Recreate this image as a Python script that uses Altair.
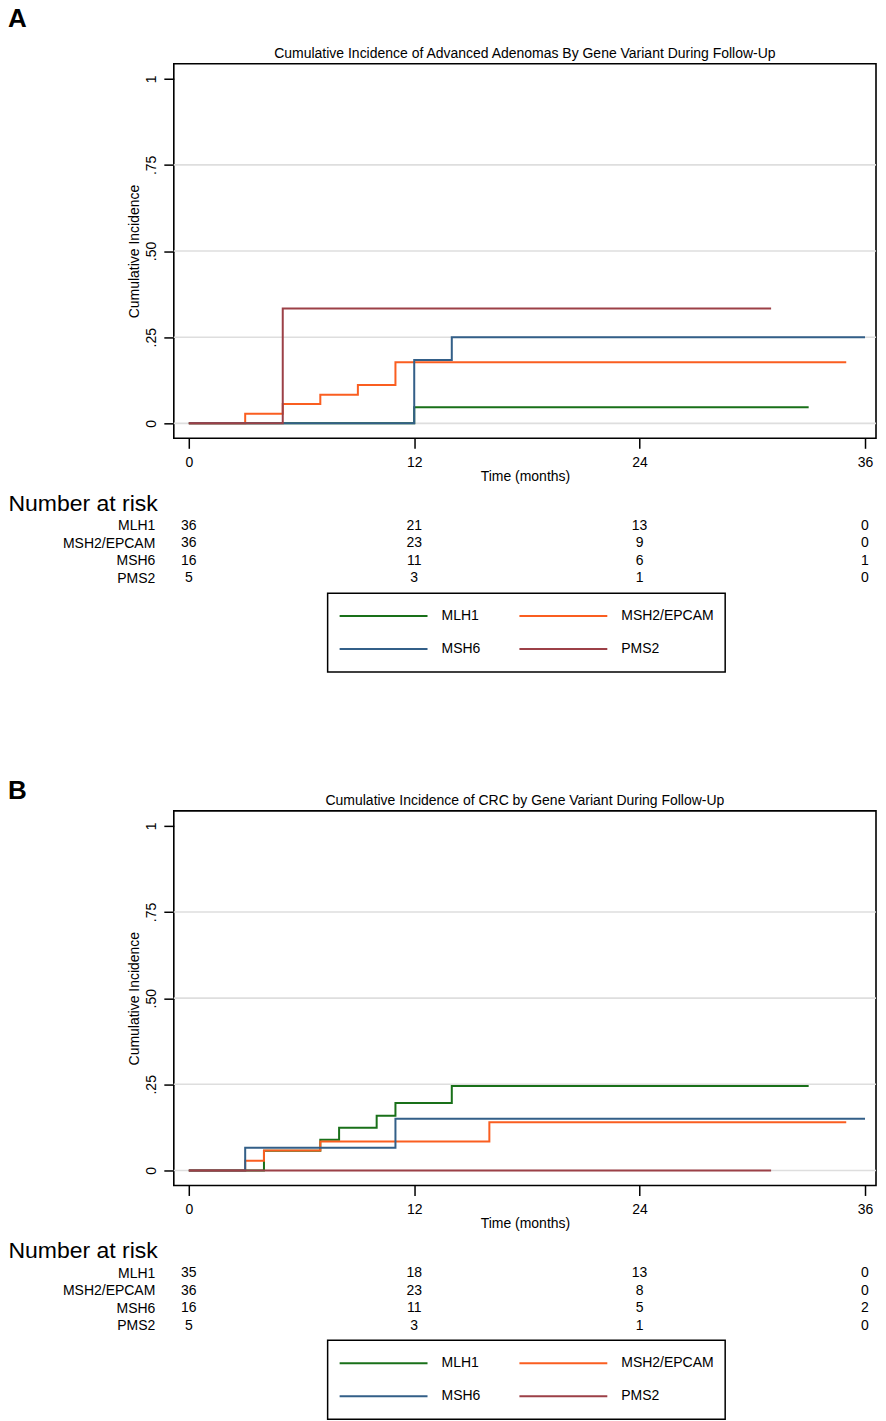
import altair as alt
import pandas as pd

FONT = "Liberation Sans"

groups = ["MLH1", "MSH2/EPCAM", "MSH6", "PMS2"]
colors = ["#197019", "#fa5e20", "#335f88", "#9c4047"]
# legend entries are filled column by column, so list them column-wise
legend_order = ["MLH1", "MSH6", "MSH2/EPCAM", "PMS2"]

x_ticks = [0, 12, 24, 36]
y_ticks = [0, 0.25, 0.5, 0.75, 1]
grid_vals = [0, 0.25, 0.5, 0.75]
risk_times = [0, 12, 24, 36]

# ---------- Panel A: advanced adenomas ----------
a_label = "A"
a_title = "Cumulative Incidence of Advanced Adenomas By Gene Variant During Follow-Up"
a_mlh1_t = [0, 12, 33]
a_mlh1_v = [0, 0.047, 0.047]
a_msh2_t = [0, 3, 5, 7, 9, 11, 35]
a_msh2_v = [0, 0.028, 0.056, 0.083, 0.111, 0.177, 0.177]
a_msh6_t = [0, 12, 14, 36]
a_msh6_v = [0, 0.184, 0.25, 0.25]
a_pms2_t = [0, 5, 31]
a_pms2_v = [0, 0.333, 0.333]
a_risk_mlh1 = [36, 21, 13, 0]
a_risk_msh2 = [36, 23, 9, 0]
a_risk_msh6 = [16, 11, 6, 1]
a_risk_pms2 = [5, 3, 1, 0]

# ---------- Panel B: CRC ----------
b_label = "B"
b_title = "Cumulative Incidence of CRC by Gene Variant During Follow-Up"
b_mlh1_t = [0, 4, 7, 8, 10, 11, 14, 33]
b_mlh1_v = [0, 0.057, 0.089, 0.124, 0.159, 0.196, 0.245, 0.245]
b_msh2_t = [0, 3, 4, 7, 16, 35]
b_msh2_v = [0, 0.028, 0.058, 0.084, 0.14, 0.14]
b_msh6_t = [0, 3, 11, 36]
b_msh6_v = [0, 0.066, 0.15, 0.15]
b_pms2_t = [0, 31]
b_pms2_v = [0, 0]
b_risk_mlh1 = [35, 18, 13, 0]
b_risk_msh2 = [36, 23, 8, 0]
b_risk_msh6 = [16, 11, 5, 2]
b_risk_pms2 = [5, 3, 1, 0]


def curves_df(series):
    rows = []
    for g, (ts, vs) in zip(groups, series):
        for t, v in zip(ts, vs):
            rows.append({"time": t, "inc": v, "group": g})
    return pd.DataFrame(rows)


def risk_df(risks):
    rows = []
    for g, ns in zip(groups, risks):
        for t, n in zip(risk_times, ns):
            rows.append({"time": t, "n": n, "group": g})
    return pd.DataFrame(rows)


PW, PH = 703, 375
XDOM = [-0.8, 36.585]
YDOM = [-0.0435, 1.0435]
color_map = dict(zip(groups, colors))


def panel(label, label_offset, title, series, risks, lx, ly):
    xscale = alt.Scale(domain=XDOM, nice=False, zero=False)
    yscale = alt.Scale(domain=YDOM, nice=False, zero=False)
    yaxis = alt.Axis(
        values=y_ticks, title="Cumulative Incidence", grid=False, domain=False,
        tickSize=10, tickWidth=1.5, tickColor="black",
        labelAngle=270, labelFontSize=14, labelPadding=5, labelColor="black",
        labelFont=FONT,
        labelExpr="datum.value == 0 ? '0' : datum.value == 1 ? '1' : '.' + format(datum.value * 100, 'd')",
        titleFontSize=14, titleFontWeight="normal", titlePadding=3,
        titleColor="black", titleFont=FONT)

    grid = alt.Chart(pd.DataFrame({"g": grid_vals})).mark_rule(
        color="#dedede", strokeWidth=1.6
    ).encode(y=alt.Y("g:Q", scale=yscale, axis=yaxis))

    lines = alt.Chart(curves_df(series)).mark_line(
        interpolate="step-after", strokeWidth=2
    ).encode(
        x=alt.X("time:Q", scale=xscale, axis=alt.Axis(
            values=x_ticks, title="Time (months)", grid=False, domain=False,
            tickSize=10, tickWidth=1.5, tickColor="black",
            labelFontSize=14, labelPadding=7, labelColor="black", labelFont=FONT,
            titleFontSize=14, titleFontWeight="normal", titlePadding=0,
            titleColor="black", titleFont=FONT)),
        y=alt.Y("inc:Q", scale=yscale, axis=yaxis),
        color=alt.Color("group:N",
                        scale=alt.Scale(domain=legend_order,
                                        range=[color_map[g] for g in legend_order]),
                        legend=alt.Legend(
                            title=None, orient="none", legendX=lx, legendY=ly,
                            columns=2, symbolType="stroke", symbolSize=7744,
                            symbolStrokeWidth=2, clipHeight=24, rowPadding=9,
                            columnPadding=38, labelOffset=13, labelFontSize=14,
                            labelFont=FONT, labelColor="black", padding=11,
                            strokeColor="black")),
        order=alt.Order("time:Q"),
    )

    plot = alt.layer(grid, lines).properties(
        width=PW, height=PH,
        title=alt.TitleParams(title, fontSize=14, fontWeight="normal", font=FONT,
                              color="black", anchor="middle", offset=3),
    )

    table = alt.Chart(risk_df(risks)).mark_text(
        fontSize=14, font=FONT, color="black"
    ).encode(
        x=alt.X("time:Q", scale=xscale, axis=None),
        y=alt.Y("group:N", scale=alt.Scale(domain=groups, paddingInner=0, paddingOuter=0),
                axis=alt.Axis(title="Number at risk", titleAngle=0, titleAlign="left",
                              titleBaseline="middle", titleX=-166, titleY=-14,
                              titleFontSize=23, titleFontWeight="normal", titleFont=FONT,
                              titleColor="black", labelFontSize=14, labelFont=FONT,
                              labelColor="black", labelPadding=19, domain=False,
                              ticks=False, grid=False)),
        text="n:Q",
    ).properties(width=PW, height=70, view=alt.ViewBackground(strokeWidth=0))

    return alt.vconcat(plot, table, spacing=8).properties(
        title=alt.TitleParams(label, anchor="start", fontSize=26, fontWeight="bold",
                              font=FONT, color="black", offset=label_offset)
    )


panelA = panel(a_label, 14, a_title,
               [(a_mlh1_t, a_mlh1_v), (a_msh2_t, a_msh2_v), (a_msh6_t, a_msh6_v), (a_pms2_t, a_pms2_v)],
               [a_risk_mlh1, a_risk_msh2, a_risk_msh6, a_risk_pms2], 154, 530)
panelB = panel(b_label, -11, b_title,
               [(b_mlh1_t, b_mlh1_v), (b_msh2_t, b_msh2_v), (b_msh6_t, b_msh6_v), (b_pms2_t, b_pms2_v)],
               [b_risk_mlh1, b_risk_msh2, b_risk_msh6, b_risk_pms2], 154, 530)

chart = alt.vconcat(panelA, panelB, spacing=105).resolve_scale(
    color="independent"
).resolve_legend(color="independent").properties(
    padding={"left": 0, "top": -3, "right": 0, "bottom": 0}
).configure_view(stroke="black", strokeWidth=1.6).configure_legend(strokeWidth=1.5)

chart.save("out.html", embed_options={"renderer": "svg", "actions": False})
